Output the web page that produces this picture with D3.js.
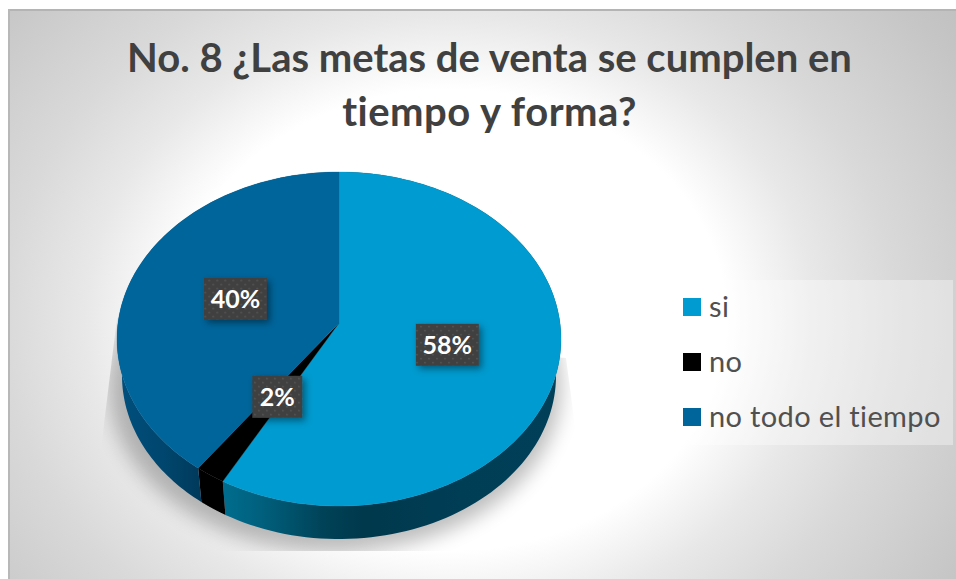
<!DOCTYPE html>
<html>
<head>
<meta charset="utf-8">
<script src="https://cdn.jsdelivr.net/npm/d3@7"></script>
<style>
html,body{margin:0;padding:0;background:#fff;overflow:hidden}
svg{display:block}
text{font-family:Lato,"Open Sans",sans-serif;font-variant-ligatures:none;font-feature-settings:"liga" 0,"clig" 0}
</style>
</head>
<body>
<svg id="c" width="956" height="579"></svg>
<script>
const titleLines = ["No. 8 ¿Las metas de venta se cumplen en", "tiempo y forma?"];
const categories = ["si", "no", "no todo el tiempo"];
const values = [58, 2, 40];
const topColors = ["#009BD0", "#000000", "#00659B"];

const W = 956, H = 579;
const svg = d3.select("#c");
const defs = svg.append("defs");

// background gradient
const bg = defs.append("radialGradient").attr("id","bg").attr("gradientUnits","userSpaceOnUse")
  .attr("cx",0).attr("cy",0).attr("r",524).attr("gradientTransform","translate(450,320) scale(1.2,1)");
[[0,"#ffffff"],[0.44,"#ffffff"],[0.58,"#e8e8e8"],[0.71,"#d9d9d9"],[0.93,"#c6c6c6"],[1,"#c1c1c1"]].forEach(s=>bg.append("stop").attr("offset",s[0]).attr("stop-color",s[1]));

// wall gradients
const wallStops = [
  [[0,"#006d8e"],[0.12,"#005f7c"],[0.3,"#004257"],[0.42,"#00384c"],[0.7,"#003e56"],[1,"#003f58"]],
  [[0,"#000000"],[1,"#000000"]],
  [[0,"#00507f"],[0.6,"#00456c"],[1,"#00395a"]]
];
const wallX = [[223,560],[195,230],[117,202]];
wallStops.forEach((st,i)=>{
  const g = defs.append("linearGradient").attr("id","wall"+i).attr("gradientUnits","userSpaceOnUse")
    .attr("x1",wallX[i][0]).attr("x2",wallX[i][1]).attr("y1",0).attr("y2",0);
  st.forEach(s=>g.append("stop").attr("offset",s[0]).attr("stop-color",s[1]));
});

// filters, clip, pattern
const blur = defs.append("filter").attr("id","sh").attr("x","-20%").attr("y","-20%").attr("width","140%").attr("height","140%");
blur.append("feGaussianBlur").attr("stdDeviation",10);
const lblSh = defs.append("filter").attr("id","lsh").attr("x","-30%").attr("y","-30%").attr("width","170%").attr("height","170%");
lblSh.append("feDropShadow").attr("dx",3).attr("dy",3).attr("stdDeviation",3.5).attr("flood-color","#000").attr("flood-opacity",0.42);
defs.append("clipPath").attr("id","shClip").append("polygon")
  .attr("points","117,318 102,440 102,551 576,551 575,425 566,358");
const pat = defs.append("pattern").attr("id","dots").attr("patternUnits","userSpaceOnUse").attr("width",8).attr("height",8);
pat.append("rect").attr("width",8).attr("height",8).attr("fill","#404040");
[[1,1],[5,5]].forEach(p=>pat.append("rect").attr("x",p[0]).attr("y",p[1]).attr("width",1.4).attr("height",1.4).attr("fill","#5c5c5c"));

// chart background
svg.append("rect").attr("x",8).attr("y",9).attr("width",W-8).attr("height",H-9).attr("fill","url(#bg)");
svg.append("rect").attr("x",8).attr("y",9).attr("width",W-8).attr("height",2).attr("fill","#b4b4b4");
svg.append("rect").attr("x",8).attr("y",9).attr("width",2).attr("height",H-9).attr("fill","#b8b8b8");

// title
svg.selectAll("text.title").data(titleLines).join("text").attr("class","title")
  .attr("x",489.5).attr("y",(d,i)=>[72,126][i]).attr("text-anchor","middle")
  .attr("letter-spacing",(d,i)=>[0,0.5][i])
  .attr("font-size",40).attr("font-weight",700).attr("fill","#404040").text(d=>d);

// perspective disc projection
const K = 0.0958;
const proj = (u,v,level) => {
  const w = 1 - K*v;
  return level === 0
    ? [339 + 221*u/w, 323 + 165.5*v/w]
    : [339 + 216*u/w, 360 + 161.9*v/w];
};
const rim = (a,level) => proj(Math.sin(a), -Math.cos(a), level);
const pieGen = d3.pie().sort(null).value(d=>d);
const slices = pieGen(values);
const line = d3.line();
const samples = d => d3.range(0,121).map(i=>d.startAngle+(d.endAngle-d.startAngle)*i/120);

// shadow
const full = d3.range(0,181).map(i=>{
  const a = i/180*2*Math.PI;
  return [335 + 226*Math.sin(a), 386 - 166*Math.cos(a)];
});
svg.append("g").attr("clip-path","url(#shClip)")
  .append("path").attr("d",line(full)+"Z").attr("fill","#000").attr("opacity",0.26).attr("filter","url(#sh)");

// walls
svg.append("g").selectAll("path").data(slices).join("path")
  .attr("d",d=>{
    const s = samples(d);
    return line(s.map(a=>rim(a,0)).concat(s.slice().reverse().map(a=>rim(a,1))))+"Z";
  })
  .attr("fill",(d,i)=>`url(#wall${i})`);

// top surface
svg.append("g").selectAll("path").data(slices).join("path")
  .attr("d",d=>line([proj(0,0,0)].concat(samples(d).map(a=>rim(a,0))))+"Z")
  .attr("fill",(d,i)=>topColors[i])
  .attr("stroke",(d,i)=>topColors[i]).attr("stroke-width",0.3);

// data labels
const arcGen = d3.arc().innerRadius(0).outerRadius(1);
const boxW = v => v < 10 ? 50 : 63;
const lbl = svg.append("g").selectAll("g").data(slices).join("g")
  .attr("transform",d=>{
    const c = arcGen.centroid(d);
    const p = proj(c[0],c[1],0);
    return `translate(${p[0]},${p[1]+1})`;
  });
lbl.append("rect").attr("x",d=>-boxW(d.value)/2).attr("y",-21).attr("width",d=>boxW(d.value)).attr("height",42)
  .attr("fill","url(#dots)").attr("filter","url(#lsh)");
lbl.append("text").attr("text-anchor","middle").attr("y",9).attr("font-size",25).attr("font-weight",700)
  .attr("fill","#fff").text(d=>d.value+"%");

// legend
svg.append("rect").attr("x",668).attr("y",280).attr("width",285).attr("height",165).attr("fill","#fff").attr("opacity",0.35);
const rowY = d3.scalePoint().domain(categories).range([307,417]);
const leg = svg.append("g").selectAll("g").data(categories).join("g").attr("transform",d=>`translate(0,${rowY(d)})`);
leg.append("rect").attr("x",683).attr("y",-9).attr("width",18).attr("height",18).attr("fill",(d,i)=>topColors[i]);
leg.append("text").attr("x",709).attr("y",10).attr("font-size",29).attr("letter-spacing",0.35).attr("fill","#505050").text(d=>d);
</script>
</body>
</html>
